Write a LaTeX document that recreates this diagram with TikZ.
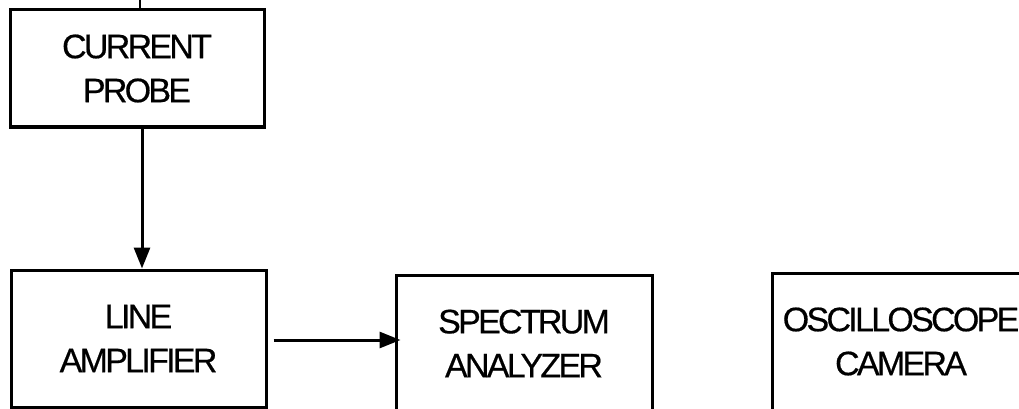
\documentclass[tikz,border=0pt]{standalone}
\usepackage{fontspec}
\setmainfont{Liberation Sans}[LetterSpace=-8,FakeBold=0.5]
\usetikzlibrary{arrows.meta,calc}
\begin{document}
\begin{tikzpicture}[x=1pt,y=-1pt,
  blk/.style={draw,line width=3pt,inner sep=0pt,align=center,
    font=\fontsize{34}{44}\selectfont},
  arr/.style={line width=3pt,-{Triangle[length=21pt,width=16pt]}},
  feed/.style={line width=1.2pt}]
\useasboundingbox (0,0) rectangle (1019,409);
\clip (0,0) rectangle (1019,409);
\node[blk,minimum width=254pt,minimum height=117pt] (cp) at (137,68.5) {CURRENT\\PROBE};
\node[blk,minimum width=255pt,minimum height=137pt] (la) at (138.5,338.5) {LINE\\AMPLIFIER};
\node[blk,minimum width=256pt,minimum height=137pt] (sa) at (524,343.5) {SPECTRUM\\ANALYZER};
\node[blk,minimum width=258pt,minimum height=137pt] (oc) at (901,341.5) {OSCILLOSCOPE\\CAMERA};
\coordinate (in) at (140,-2);
\draw[feed] (in) -- (in |- cp.north);
\draw[arr] ([xshift=5pt]cp.south) -- ([xshift=5pt]cp.south |- la.north);
\draw[arr] ($(la.east)+(6,1.5)$) -- ($(la.east -| sa.west)+(6,1.5)$);
\end{tikzpicture}
\end{document}
